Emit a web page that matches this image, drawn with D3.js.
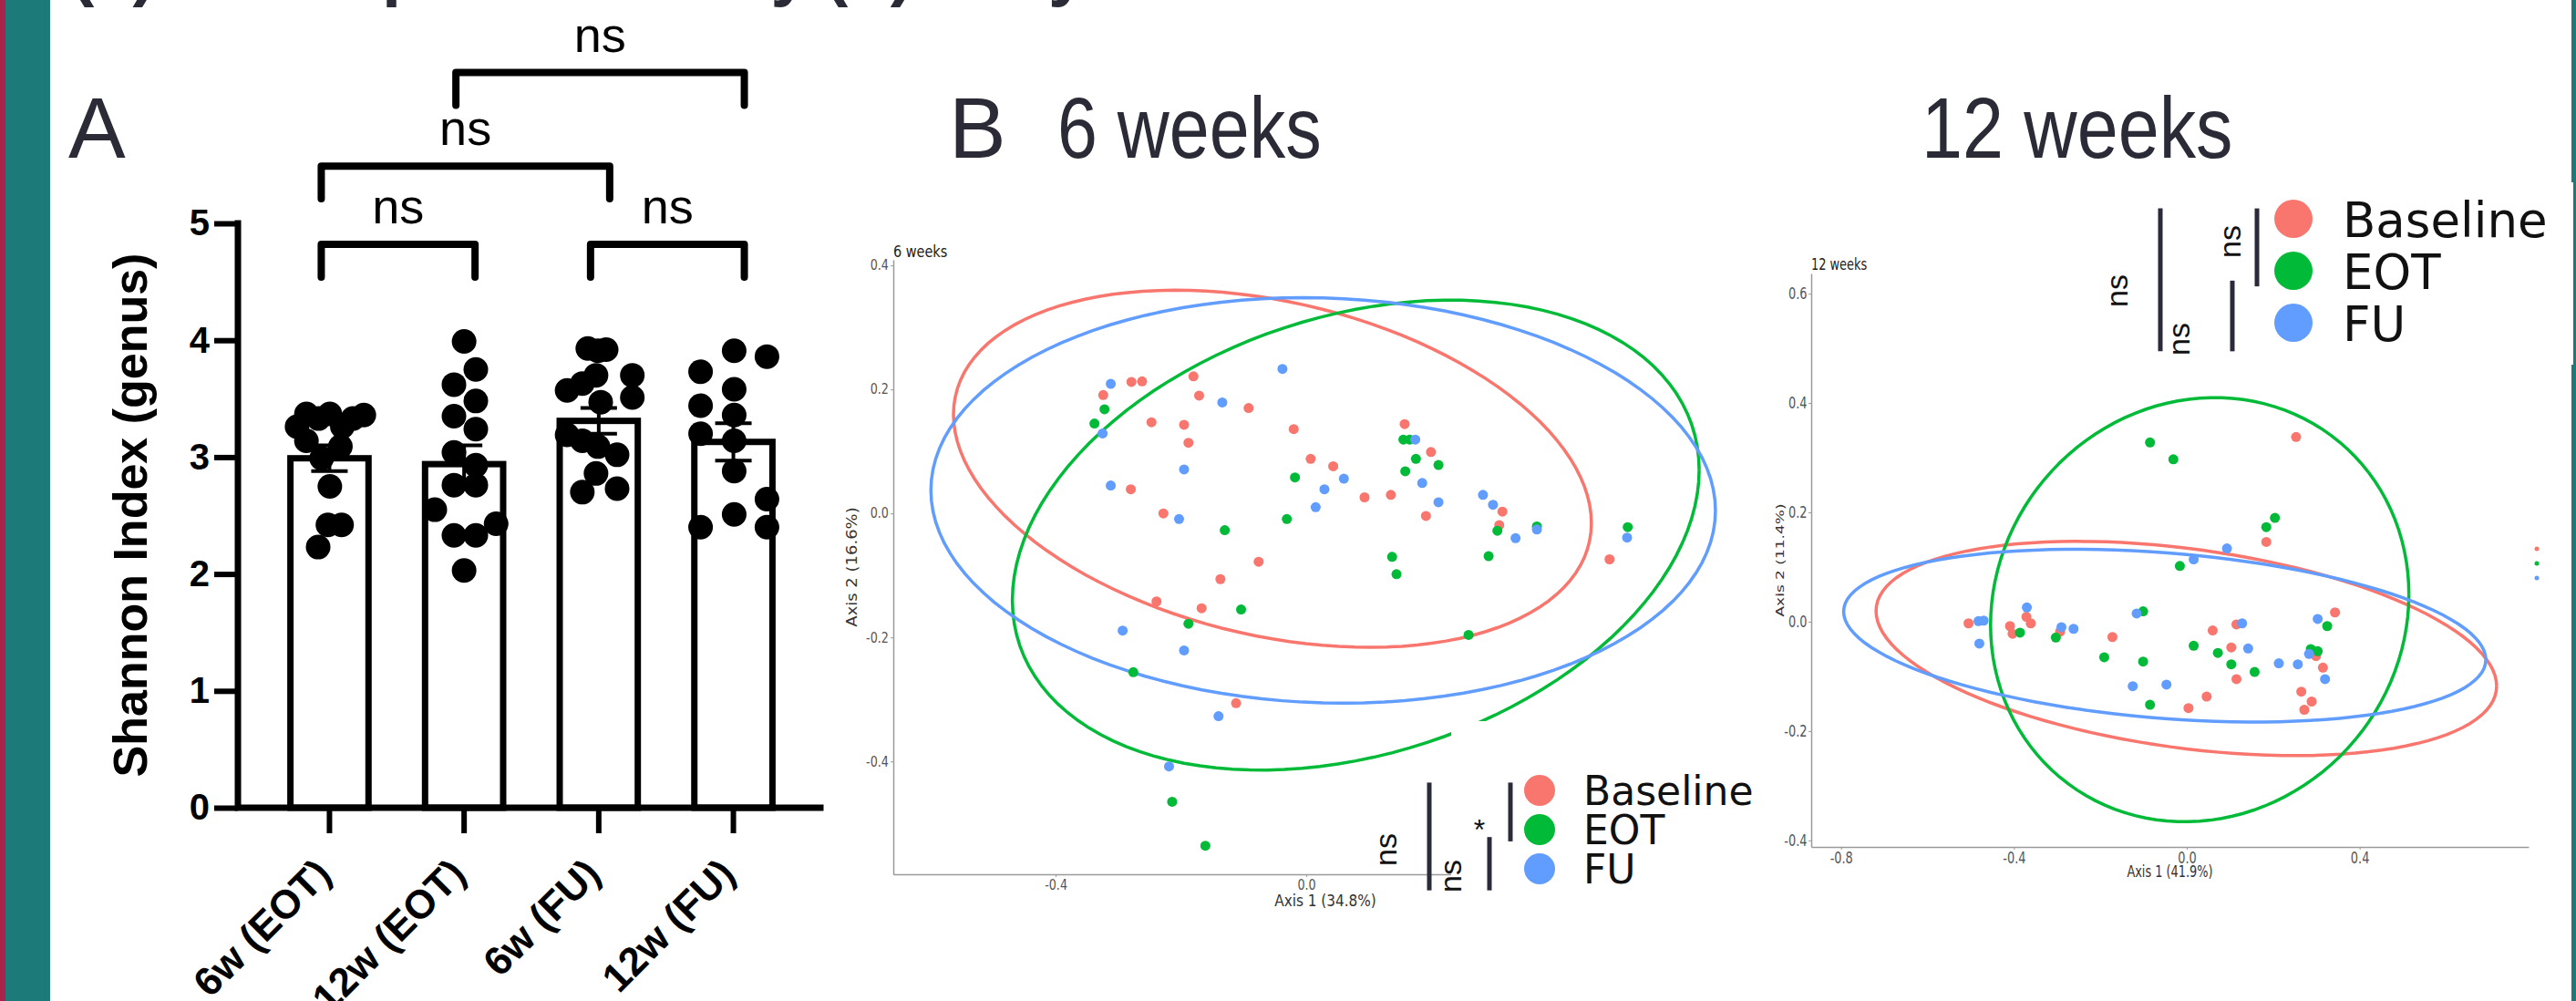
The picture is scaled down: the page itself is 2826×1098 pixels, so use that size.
<!DOCTYPE html>
<html>
<head>
<meta charset="utf-8">
<script src="https://cdn.jsdelivr.net/npm/d3@7/dist/d3.min.js"></script>
<style>
  body { margin: 0; background: #fff; }
  svg { display: block; }
</style>
</head>
<body>
<svg id="chart" width="2826" height="1098"></svg>
<script>
// ---- panel A: Shannon index (genus) ----
const shannonGroups = ["6w (EOT)", "12w (EOT)", "6w (FU)", "12w (FU)"];
const shannonMean = [2.99, 2.94, 3.31, 3.13];
const shannonSem = [0.11, 0.16, 0.11, 0.16];
const shannonTicks = [0, 1, 2, 3, 4, 5];
// [value, sideways jitter as a fraction of half the bar width]
const shannon6wEot = [[3.26,-0.83],[3.37,-0.59],[3.33,-0.28],[3.37,0.01],[3.26,0.33],[3.33,0.6],[3.36,0.88],
  [3.14,-0.59],[3.09,0.28],[2.99,-0.2],[2.75,0.01],[2.42,-0.04],[2.42,0.31],[2.23,-0.29]];
const shannon12wEot = [[3.99,0],[3.75,0.3],[3.62,-0.26],[3.48,0.3],[3.35,-0.26],[3.24,0.3],[3.04,-0.26],[2.93,0.3],
  [2.76,-0.26],[2.76,0.3],[2.55,-0.75],[2.43,0.82],[2.33,-0.26],[2.33,0.3],[2.03,0]];
const shannon6wFu = [[3.93,-0.28],[3.91,-0.02],[3.92,0.19],[3.70,-0.07],[3.70,0.86],[3.57,-0.81],[3.63,-0.42],[3.47,0.05],
  [3.51,0.86],[3.19,-0.81],[3.14,-0.42],[3.09,-0.02],[3.02,0.47],[2.86,-0.07],[2.70,-0.42],[2.73,0.47]];
const shannon12wFu = [[3.91,0.02],[3.86,0.86],[3.73,-0.84],[3.58,0.02],[3.44,-0.84],[3.36,0.02],[3.20,-0.84],
  [3.14,0.02],[2.88,0.02],[2.64,0.86],[2.51,0.02],[2.40,-0.84],[2.40,0.86]];
// [group a, group b, bracket height, label]
const shannonTests = [[0,1,4.82,"ns"],[2,3,4.82,"ns"],[0,2,5.49,"ns"],[1,3,6.29,"ns"]];

// ---- panel B: PCoA ----
const groups = ["Baseline", "EOT", "FU"];
const groupColors = ["#F8766D", "#00BA38", "#619CFF"];

const pcoa6wBaseline = [[-0.324,0.191],[-0.279,0.212],[-0.262,0.213],[-0.180,0.221],[-0.171,0.190],[-0.092,0.170],
  [-0.247,0.147],[-0.195,0.143],[-0.188,0.114],[-0.020,0.136],[-0.280,0.039],[-0.228,0.0],[0.007,0.088],[0.043,0.076],
  [0.093,0.026],[0.135,0.030],[0.157,0.144],[0.199,0.099],[0.191,-0.004],[0.313,0.003],[0.308,-0.019],[0.484,-0.074],
  [-0.076,-0.078],[-0.137,-0.106],[-0.239,-0.142],[-0.167,-0.153],[-0.112,-0.306]];
const pcoa6wEot = [[-0.338,0.145],[-0.322,0.168],[-0.018,0.058],[-0.031,-0.009],[-0.130,-0.027],[0.155,0.119],
  [0.165,0.119],[0.175,0.088],[0.158,0.068],[0.211,0.078],[0.305,-0.028],[0.368,-0.021],[0.513,-0.022],[0.137,-0.070],
  [0.144,-0.098],[0.291,-0.069],[0.259,-0.196],[-0.104,-0.155],[-0.188,-0.178],[-0.276,-0.256],[-0.214,-0.465],[-0.161,-0.536]];
const pcoa6wFu = [[-0.312,0.209],[-0.325,0.129],[-0.312,0.045],[-0.195,0.071],[-0.203,-0.009],[-0.134,0.179],
  [-0.038,0.233],[0.015,0.010],[0.029,0.039],[0.060,0.056],[0.174,0.119],[0.185,0.049],[0.211,0.018],[0.282,0.030],
  [0.298,0.014],[0.334,-0.040],[0.368,-0.026],[0.512,-0.039],[-0.293,-0.189],[-0.195,-0.221],[-0.140,-0.327],[-0.219,-0.408]];

const pcoa12wBaseline = [[-0.505,-0.003],[-0.409,-0.008],[-0.403,-0.022],[-0.371,0.009],[-0.361,-0.003],[-0.293,-0.018],
  [-0.172,-0.028],[0.060,-0.016],[0.103,-0.047],[0.115,-0.005],[0.115,-0.105],[0.004,-0.158],[0.046,-0.137],[0.184,0.146],
  [0.253,0.338],[0.265,-0.128],[0.272,-0.161],[0.289,-0.146],[0.299,-0.063],[0.315,-0.084],[0.343,0.017]];
const pcoa12wEot = [[-0.386,-0.020],[-0.303,-0.029],[-0.191,-0.065],[-0.101,0.019],[-0.101,-0.073],[-0.085,-0.152],
  [-0.085,0.328],[-0.031,0.297],[-0.016,0.102],[0.016,-0.044],[0.072,-0.057],[0.103,-0.078],[0.157,-0.092],[0.184,0.173],
  [0.204,0.190],[0.287,-0.050],[0.303,-0.054],[0.325,-0.008]];
const pcoa12wFu = [[-0.482,0.001],[-0.470,0.002],[-0.480,-0.040],[-0.370,0.026],[-0.290,-0.010],[-0.262,-0.013],
  [-0.116,0.015],[-0.125,-0.118],[-0.047,-0.115],[0.016,0.114],[0.093,0.134],[0.128,-0.003],[0.142,-0.049],[0.213,-0.076],
  [0.257,-0.078],[0.283,-0.059],[0.303,0.005],[0.320,-0.105]];

// confidence ellipses per group: [centre x, centre y, half width, half height, correlation]
const ellipse6w = [[-0.054,0.072,0.509,0.288,-0.304],[0.079,-0.035,0.548,0.379,0.277],[0.027,0.021,0.626,0.327,-0.05]];
const ellipse12w = [[-0.001,-0.049,0.718,0.196,-0.35],[0.030,0.022,0.484,0.388,0.0725],[-0.051,-0.0255,0.743,0.158,-0.278]];

const ticks6wX = [-0.4, 0.0];
const ticks6wY = [-0.4, -0.2, 0.0, 0.2, 0.4];
const ticks12wX = [-0.8, -0.4, 0.0, 0.4];
const ticks12wY = [-0.4, -0.2, 0.0, 0.2, 0.4, 0.6];

// PERMANOVA pairs shown beside the legends: [group a, group b, label]
const tests6w = [[0,2,"ns"],[0,1,"*"],[1,2,"ns"]];
const tests12w = [[0,2,"ns"],[0,1,"ns"],[1,2,"ns"]];

const svg = d3.select("#chart");
const ink = "#2b2b38";
const arial = "'Liberation Sans', Arial, Helvetica, sans-serif";
const dejavu = "'DejaVu Sans', Verdana, sans-serif";

// side strips of the poster
svg.append("rect").attr("x", 0).attr("y", 0).attr("width", 6).attr("height", 1098).attr("fill", "#a8234c");
svg.append("rect").attr("x", 6).attr("y", 0).attr("width", 49).attr("height", 1098).attr("fill", "#1c7b79");
svg.append("rect").attr("x", 2821).attr("y", 0).attr("width", 5).attr("height", 1098).attr("fill", "#1c7b79");

// ================= panel A =================
const xA = d3.scaleBand().domain(shannonGroups).range([261, 905]).paddingInner(0.42).paddingOuter(0.39);
const yA = d3.scaleLinear().domain([0, 5]).range([886, 245]);
const gA = svg.append("g").attr("font-family", arial);
const pointSets = [shannon6wEot, shannon12wEot, shannon6wFu, shannon12wFu];
const half = xA.bandwidth() / 2;

gA.selectAll("rect.bar").data(shannonGroups).join("rect").attr("class", "bar")
  .attr("x", d => xA(d)).attr("width", xA.bandwidth())
  .attr("y", (d, i) => yA(shannonMean[i])).attr("height", (d, i) => yA(0) - yA(shannonMean[i]))
  .attr("fill", "#fff").attr("stroke", "#000").attr("stroke-width", 7);

shannonGroups.forEach((grp, i) => {
  const cx = xA(grp) + half;
  gA.append("g").selectAll("circle").data(pointSets[i]).join("circle")
    .attr("cx", d => cx + d[1] * half).attr("cy", d => yA(d[0])).attr("r", 13.5).attr("fill", "#000");
  const hi = yA(shannonMean[i] + shannonSem[i]), lo = yA(shannonMean[i] - shannonSem[i]);
  gA.append("path").attr("d", `M${cx - 20},${hi}H${cx + 20}M${cx},${hi}V${lo}M${cx - 20},${lo}H${cx + 20}`)
    .attr("fill", "none").attr("stroke", "#000").attr("stroke-width", 4);
});

const axA = gA.append("g").attr("transform", "translate(0,886)")
  .call(d3.axisBottom(xA).tickSize(28).tickSizeOuter(0));
axA.select(".domain").remove();
axA.selectAll(".tick line").attr("stroke", "#000").attr("stroke-width", 6);
axA.selectAll(".tick text").attr("y", 0).attr("dy", 0).attr("text-anchor", "end")
  .attr("transform", "translate(4,75) rotate(-45)")
  .attr("font-family", arial).attr("font-weight", "bold").attr("font-size", 44).attr("fill", "#000");

const ayA = gA.append("g").attr("transform", "translate(261,0)")
  .call(d3.axisLeft(yA).tickValues(shannonTicks).tickFormat(d3.format("d")).tickSize(26).tickPadding(5).tickSizeOuter(0));
ayA.select(".domain").remove();
ayA.selectAll(".tick line").attr("stroke", "#000").attr("stroke-width", 6);
ayA.selectAll(".tick text").attr("font-family", arial).attr("font-weight", "bold").attr("font-size", 40).attr("fill", "#000");

gA.append("path").attr("d", `M261,${yA(5)}V${yA(0)}H900`).attr("fill", "none")
  .attr("stroke", "#000").attr("stroke-width", 7).attr("stroke-linecap", "square");

gA.append("text").attr("transform", "translate(161,565) rotate(-90)").attr("text-anchor", "middle")
  .attr("font-weight", "bold").attr("font-size", 52).attr("fill", "#000").text("Shannon Index (genus)");

shannonTests.forEach(([a, b, h, lab]) => {
  const x1 = xA(shannonGroups[a]) + half - 9, x2 = xA(shannonGroups[b]) + half + 12;
  const yTop = yA(h), yLeg = yA(h - 0.28);
  gA.append("path").attr("d", `M${x1},${yLeg}V${yTop}H${x2}V${yLeg}`).attr("fill", "none")
    .attr("stroke", "#000").attr("stroke-width", 8).attr("stroke-linecap", "round").attr("stroke-linejoin", "round");
  gA.append("text").attr("x", (x1 + x2) / 2).attr("y", yTop - 23).attr("text-anchor", "middle")
    .attr("font-size", 54).attr("fill", "#000").text(lab);
});

// ================= PCoA panels =================
function drawPcoa(p) {
  const g = svg.append("g");
  const x = d3.scaleLinear().domain(p.xDomain).range(p.xRange);
  const y = d3.scaleLinear().domain(p.yDomain).range(p.yRange);
  const s = p.squeeze;
  const line = d3.line().x(d => x(d[0])).y(d => y(d[1]));

  p.ellipses.forEach(([cx, cy, rx, ry, rho], i) => {
    const q = Math.sqrt(1 - rho * rho);
    const ring = d3.range(0, 361, 3).map(a => {
      const t = a * Math.PI / 180;
      return [cx + rx * Math.cos(t), cy + ry * (rho * Math.cos(t) + q * Math.sin(t))];
    });
    g.append("path").attr("d", line(ring)).attr("fill", "none")
      .attr("stroke", groupColors[i]).attr("stroke-width", 3.5);
  });
  p.points.forEach((set, i) => {
    g.append("g").selectAll("circle").data(set).join("circle")
      .attr("cx", d => x(d[0])).attr("cy", d => y(d[1])).attr("r", 5.5).attr("fill", groupColors[i]);
  });

  const fmt = d => d.toFixed(1);
  const ax = g.append("g").attr("transform", `translate(0,${p.yRange[0]})`)
    .call(d3.axisBottom(x).tickValues(p.xTicks).tickSize(3).tickPadding(3).tickSizeOuter(0).tickFormat(fmt));
  const ay = g.append("g").attr("transform", `translate(${p.xRange[0]},0)`)
    .call(d3.axisLeft(y).tickValues(p.yTicks).tickSize(3).tickPadding(3).tickSizeOuter(0).tickFormat(fmt));
  [ax, ay].forEach(a => {
    a.select(".domain").attr("stroke", "#9a9a9a").attr("stroke-width", 1.5);
    a.selectAll(".tick line").attr("stroke", "#9a9a9a");
    a.selectAll(".tick text").attr("fill", "#555").attr("font-family", dejavu)
      .attr("font-size", p.tickFont).attr("transform", `scale(${s},1)`);
  });

  const mid = (p.xRange[0] + p.xRange[1]) / 2;
  g.append("text").attr("transform", `translate(${mid},${p.xTitleY}) scale(${s},1)`).attr("text-anchor", "middle")
    .attr("font-family", dejavu).attr("font-size", p.titleFont).attr("fill", "#333").text(p.xTitle);
  g.append("text").attr("transform", `translate(${p.yTitleX},${(p.yRange[0] + p.yRange[1]) / 2}) scale(${s},1) rotate(-90)`)
    .attr("text-anchor", "middle").attr("font-family", dejavu).attr("font-size", p.titleFont).attr("fill", "#333")
    .text(p.yTitle);
  g.append("text").attr("transform", `translate(${p.xRange[0]},${p.labelY}) scale(${s},1)`)
    .attr("font-family", dejavu).attr("font-size", 17).attr("fill", "#222").text(p.label);
}

function drawLegend(L) {
  const g = svg.append("g");
  g.append("rect").attr("x", L.box[0]).attr("y", L.box[1]).attr("width", L.box[2]).attr("height", L.box[3]).attr("fill", "#fff");
  const rowY = i => L.y0 + i * L.step;
  groups.forEach((name, i) => {
    g.append("circle").attr("cx", L.x).attr("cy", rowY(i)).attr("r", L.r).attr("fill", groupColors[i]);
    g.append("text").attr("x", L.x + L.textDx).attr("y", rowY(i) + L.font * 0.37)
      .attr("font-family", dejavu).attr("font-size", L.font).attr("fill", "#111").text(name);
  });
  L.tests.forEach(([a, b, lab], k) => {
    const bx = L.barX[k];
    const top = rowY(a) + (a === 0 ? -0.2 : 0.19) * L.step;
    const bottom = rowY(b) + (b === 2 ? 0.55 : 0.3) * L.step;
    g.append("line").attr("x1", bx).attr("x2", bx).attr("y1", top).attr("y2", bottom)
      .attr("stroke", "#2a2a3a").attr("stroke-width", 5);
    const [lx, ly] = L.labelAt[k];
    if (lab === "*") {
      g.append("text").attr("x", lx).attr("y", ly + 19).attr("text-anchor", "middle")
        .attr("font-family", arial).attr("font-size", 32).attr("fill", "#111").text(lab);
    } else {
      g.append("text").attr("transform", `translate(${lx},${ly}) rotate(-90)`).attr("text-anchor", "middle")
        .attr("font-family", arial).attr("font-size", 34).attr("fill", "#111").text(lab);
    }
  });
}

drawPcoa({
  xDomain: [-0.659, 0.72], xRange: [980, 1928], yDomain: [-0.582, 0.409], yRange: [959, 285],
  xTicks: ticks6wX, yTicks: ticks6wY, squeeze: 0.85, tickFont: 15, titleFont: 18,
  xTitle: "Axis 1 (34.8%)", yTitle: "Axis 2 (16.6%)", xTitleY: 994, yTitleX: 940, labelY: 282, label: "6 weeks",
  points: [pcoa6wBaseline, pcoa6wEot, pcoa6wFu], ellipses: ellipse6w
});
drawLegend({
  box: [1592, 791, 372, 212], x: 1689, y0: 867, step: 43, r: 17, font: 44, textDx: 48,
  tests: tests6w, barX: [1568, 1657, 1634], labelAt: [[1532, 932], [1623, 902], [1603, 961]]
});

drawPcoa({
  xDomain: [-0.869, 0.791], xRange: [1987, 2774], yDomain: [-0.412, 0.637], yRange: [929, 300],
  xTicks: ticks12wX, yTicks: ticks12wY, squeeze: 0.76, tickFont: 17, titleFont: 17,
  xTitle: "Axis 1 (41.9%)", yTitle: "Axis 2 (11.4%)", xTitleY: 962, yTitleX: 1957, labelY: 296, label: "12 weeks",
  points: [pcoa12wBaseline, pcoa12wEot, pcoa12wFu], ellipses: ellipse12w
});
drawLegend({
  box: [2290, 200, 533, 200], x: 2516, y0: 240, step: 57, r: 21, font: 53, textDx: 54,
  tests: tests12w, barX: [2370, 2476, 2449], labelAt: [[2334, 319], [2458, 265], [2402, 372]]
});

// clipped-off legend keys at the right edge of the 12 week plot
svg.append("g").selectAll("circle").data(groupColors).join("circle")
  .attr("cx", 2783).attr("cy", (d, i) => 602 + i * 16).attr("r", 2.5).attr("fill", d => d);

// heading line, mostly above the crop
const head = svg.append("text").attr("y", -8).attr("font-family", arial).attr("font-weight", "bold")
  .attr("font-size", 76).attr("fill", ink);
head.append("tspan").attr("x", 78).text("(a)");
head.append("tspan").attr("x", 343).text("Alpha diversity");
head.append("tspan").attr("x", 905).text("(b) Bray-Curtis");

// panel letters and headings: [text, x, horizontal squeeze]
const big = [["A", 75, 1], ["B", 1041, 1], ["6 weeks", 1160, 0.84], ["12 weeks", 2108, 0.86]];
svg.selectAll("text.big").data(big).join("text").attr("class", "big")
  .attr("transform", d => `translate(${d[1]},173) scale(${d[2]},1)`)
  .attr("font-family", arial).attr("font-size", 94).attr("fill", ink)
  .text(d => d[0]);
</script>
</body>
</html>
